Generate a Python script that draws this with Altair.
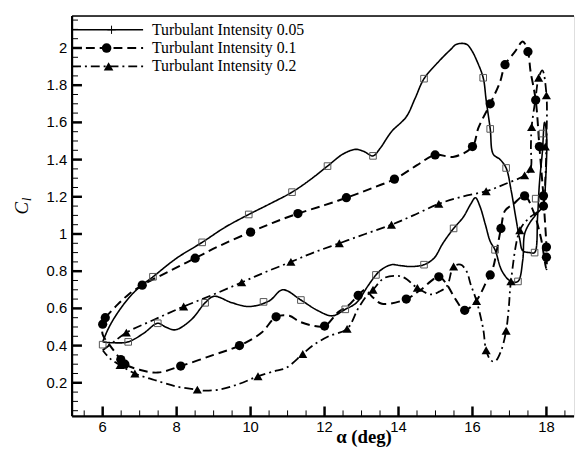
import altair as alt
import pandas as pd

# ---------------- data ----------------
series_names = ["Turbulant Intensity 0.05", "Turbulant Intensity 0.1", "Turbulant Intensity 0.2"]

s1_x = [6.00, 6.15, 6.35, 6.70, 7.00, 7.36, 8.00, 8.69, 9.30, 9.95, 10.50, 11.12, 11.60, 12.08, 12.50, 12.83,
        13.05, 13.31, 13.50, 13.81, 14.21, 14.45, 14.69, 15.10, 15.40, 15.57, 15.84, 16.00, 16.11, 16.29, 16.37,
        16.48, 16.56, 16.75, 16.91, 17.05, 17.17, 17.28, 17.36, 17.55, 17.68, 17.76, 17.81, 17.89, 17.95, 18.00,
        17.98, 17.90, 17.70, 17.55, 17.41, 17.36, 17.23, 17.04, 16.80, 16.61, 16.48, 16.35, 16.20, 16.08, 15.95,
        15.75, 15.49, 15.20, 14.96, 14.69, 14.35, 14.05, 13.81, 13.55, 13.39, 13.17, 12.86, 12.56, 12.21, 11.80,
        11.36, 10.87, 10.50, 9.97, 9.50, 9.01, 8.77, 8.40, 7.97, 7.70, 7.49, 7.10, 6.69, 6.30, 6.00]
s1_y = [0.42, 0.49, 0.56, 0.655, 0.715, 0.77, 0.87, 0.955, 1.035, 1.105, 1.16, 1.225, 1.29, 1.365, 1.43, 1.455,
        1.445, 1.42, 1.46, 1.55, 1.63, 1.73, 1.835, 1.93, 1.99, 2.02, 2.02, 1.98, 1.935, 1.84, 1.72,
        1.565, 1.43, 1.40, 1.355, 1.23, 1.09, 0.97, 0.91, 0.90, 0.90, 1.09, 1.27, 1.44, 1.60, 1.55,
        1.30, 1.15, 1.10, 1.06, 1.00, 0.86, 0.745, 0.745, 0.80, 0.915, 0.96, 1.05, 1.15, 1.195, 1.16,
        1.09, 1.03, 0.95, 0.87, 0.835, 0.825, 0.83, 0.835, 0.81, 0.78, 0.72, 0.63, 0.595, 0.56, 0.59,
        0.645, 0.70, 0.64, 0.61, 0.63, 0.665, 0.63, 0.54, 0.485, 0.50, 0.52, 0.465, 0.42, 0.415, 0.42]
s1_mx = [6.00, 7.36, 8.69, 9.95, 11.12, 12.08, 13.31, 14.69, 16.29, 16.48, 16.91, 17.71, 17.89,
         6.69, 7.49, 8.77, 10.35, 11.36, 12.56, 13.39, 14.69, 15.49, 16.61, 17.23, 17.68]
s1_my = [0.405, 0.77, 0.955, 1.105, 1.225, 1.365, 1.42, 1.835, 1.84, 1.565, 1.355, 1.19, 1.54,
         0.42, 0.52, 0.63, 0.635, 0.645, 0.595, 0.78, 0.835, 1.03, 0.915, 0.745, 0.90]

s2_x = [6.07, 6.40, 6.70, 7.07, 7.80, 8.50, 9.20, 10.00, 10.60, 11.28, 12.00, 12.59, 13.20, 13.89, 14.50, 14.99,
        15.50, 16.00, 16.16, 16.48, 16.75, 16.88, 17.15, 17.36, 17.50, 17.57, 17.71, 17.81, 17.88, 17.92, 17.95,
        18.00, 18.00, 17.85, 17.65, 17.41, 17.10, 16.88, 16.77, 16.56, 16.48, 16.37, 16.10, 15.79, 15.54, 15.30,
        15.09, 14.60, 14.21, 13.55, 13.30, 13.10, 12.91, 12.64, 12.37, 12.00, 11.68, 11.31, 11.05, 10.69, 10.30,
        9.70, 9.00, 8.11, 7.49, 7.00, 6.60, 6.49, 6.20, 6.00, 6.00, 6.07]
s2_y = [0.55, 0.62, 0.675, 0.725, 0.80, 0.87, 0.94, 1.01, 1.06, 1.11, 1.155, 1.195, 1.24, 1.295, 1.37, 1.425,
        1.415, 1.47, 1.57, 1.70, 1.82, 1.91, 1.98, 2.035, 1.98, 1.875, 1.72, 1.47, 1.30, 1.20, 1.10,
        0.93, 0.81, 0.98, 1.12, 1.205, 1.16, 1.125, 1.03, 0.82, 0.78, 0.74, 0.64, 0.59, 0.65, 0.73,
        0.77, 0.70, 0.65, 0.625, 0.66, 0.70, 0.67, 0.615, 0.58, 0.505, 0.507, 0.53, 0.56, 0.555, 0.47,
        0.40, 0.35, 0.29, 0.255, 0.27, 0.30, 0.325, 0.40, 0.46, 0.515, 0.55]
s2_mx = [6.00, 6.07, 7.07, 8.50, 10.00, 11.28, 12.59, 13.89, 14.99, 16.00, 16.48, 16.88, 17.50, 17.71, 17.81,
         17.92, 17.92, 18.00, 18.00, 17.41, 16.77, 16.48, 15.79, 15.09, 14.21, 12.91, 12.00, 10.69, 9.70,
         8.11, 6.60, 6.49]
s2_my = [0.515, 0.55, 0.725, 0.87, 1.01, 1.11, 1.195, 1.295, 1.425, 1.47, 1.70, 1.91, 1.98, 1.72, 1.47,
         1.205, 1.15, 0.93, 0.875, 1.205, 1.03, 0.78, 0.59, 0.77, 0.65, 0.67, 0.505, 0.555, 0.40,
         0.29, 0.30, 0.325]

s3_x = [6.00, 6.30, 6.64, 7.40, 8.19, 9.00, 9.76, 10.40, 11.09, 11.70, 12.40, 13.10, 13.81, 14.40, 15.09, 15.70,
        16.37, 16.90, 17.41, 17.57, 17.58, 17.60, 17.70, 17.79, 17.89, 18.00, 18.00, 17.97, 17.90, 17.50, 17.28,
        17.04, 16.98, 16.91, 16.77, 16.61, 16.50, 16.37, 16.29, 16.11, 15.95, 15.84, 15.68, 15.49, 15.31, 15.10,
        14.88, 14.51, 14.10, 13.63, 13.31, 13.15, 12.91, 12.61, 12.11, 11.68, 11.41, 10.96, 10.69, 10.20, 9.70,
        9.20, 8.75, 8.56, 8.00, 7.40, 6.87, 6.47, 6.20, 6.00]
s3_y = [0.375, 0.42, 0.47, 0.54, 0.61, 0.675, 0.74, 0.795, 0.85, 0.90, 0.95, 1.00, 1.05, 1.10, 1.162, 1.20,
        1.23, 1.27, 1.315, 1.35, 1.47, 1.575, 1.72, 1.84, 1.88, 1.75, 1.50, 1.30, 1.15, 1.08, 1.02,
        0.745, 0.60, 0.48, 0.37, 0.315, 0.32, 0.375, 0.49, 0.64, 0.73, 0.80, 0.835, 0.825, 0.72, 0.69,
        0.675, 0.71, 0.77, 0.765, 0.70, 0.67, 0.60, 0.49, 0.45, 0.40, 0.355, 0.28, 0.265, 0.235, 0.195,
        0.165, 0.158, 0.163, 0.18, 0.215, 0.25, 0.295, 0.33, 0.375]
s3_mx = [6.64, 8.19, 9.76, 11.09, 12.40, 13.81, 15.09, 16.37, 17.41, 17.57, 17.60, 17.79, 18.00, 17.97,
         17.28, 17.04, 16.91, 16.37, 16.11, 15.49, 14.51, 13.31, 12.61, 11.41, 10.20, 8.56, 6.87, 6.47]
s3_my = [0.47, 0.61, 0.74, 0.85, 0.95, 1.05, 1.162, 1.23, 1.315, 1.35, 1.575, 1.84, 1.745, 1.47,
         1.02, 0.745, 0.48, 0.375, 0.64, 0.825, 0.71, 0.70, 0.49, 0.355, 0.235, 0.163, 0.25, 0.295]

x_major = [6, 8, 10, 12, 14, 16, 18]
x_labels = ["6", "8", "10", "12", "14", "16", "18"]
y_major = [0.2, 0.4, 0.6, 0.8, 1.0, 1.2, 1.4, 1.6, 1.8, 2.0]
y_labels = ["0.2", "0.4", "0.6", "0.8", "1", "1.2", "1.4", "1.6", "1.8", "2"]

# ---------------- layout ----------------
W, H = 509, 406
XMIN, XMAX = 5.173, 18.746
YMIN, YMAX = 0.0196, 2.172

x_minor = [v / 2 for v in range(11, 38) if (v / 2) not in x_major]
y_minor = [round(v * 0.05, 2) for v in range(1, 44) if round(v * 0.05, 2) not in y_major]

xs = alt.Scale(domain=[XMIN, XMAX], nice=False, zero=False)
ys = alt.Scale(domain=[YMIN, YMAX], nice=False, zero=False)

SANS = "Liberation Sans"
SERIF = "Liberation Serif"


def X(field):
    return alt.X(field, scale=xs, axis=None)


def Y(field):
    return alt.Y(field, scale=ys, axis=None)


def path_df(xv, yv):
    return pd.DataFrame({"x": xv, "y": yv, "i": list(range(len(xv)))})


styles = [
    dict(dash=[1, 0], width=1.6),
    dict(dash=[9, 5], width=2.0),
    dict(dash=[9, 4, 2, 4], width=1.8),
]

layers = []
paths = [(s1_x, s1_y), (s2_x, s2_y), (s3_x, s3_y)]
for k, (px, py) in enumerate(paths):
    st = styles[k]
    layers.append(
        alt.Chart(path_df(px, py)).mark_line(
            interpolate="catmull-rom", color="black", strokeWidth=st["width"], strokeDash=st["dash"]
        ).encode(x=X("x:Q"), y=Y("y:Q"), order=alt.Order("i:Q"))
    )

# markers
layers.append(
    alt.Chart(pd.DataFrame({"x": s1_mx, "y": s1_my})).mark_point(
        shape="square", size=45, filled=False, color="#555555", strokeWidth=1, opacity=1
    ).encode(x=X("x:Q"), y=Y("y:Q"))
)
layers.append(
    alt.Chart(pd.DataFrame({"x": s2_mx, "y": s2_my})).mark_point(
        shape="circle", size=88, filled=True, color="black", opacity=1
    ).encode(x=X("x:Q"), y=Y("y:Q"))
)
layers.append(
    alt.Chart(pd.DataFrame({"x": s3_mx, "y": s3_my})).mark_point(
        shape="triangle-up", size=85, filled=True, color="black", opacity=1
    ).encode(x=X("x:Q"), y=Y("y:Q"))
)

# axis domain lines and frame
layers.append(
    alt.Chart(pd.DataFrame({"a": [0]})).mark_rule(color="black", strokeWidth=2.2).encode(
        x=alt.value(0), x2=alt.value(W), y=alt.value(H))
)
layers.append(
    alt.Chart(pd.DataFrame({"a": [0]})).mark_rule(color="black", strokeWidth=2.2).encode(
        x=alt.value(0), y=alt.value(0), y2=alt.value(H))
)
layers.append(
    alt.Chart(pd.DataFrame({"a": [0]})).mark_rule(color="black", strokeWidth=1.6).encode(
        x=alt.value(0), x2=alt.value(W), y=alt.value(0))
)

# inward ticks
layers.append(
    alt.Chart(pd.DataFrame({"v": x_major})).mark_rule(color="black", strokeWidth=2.5).encode(
        x=X("v:Q"), y=alt.value(H), y2=alt.value(H - 10))
)
layers.append(
    alt.Chart(pd.DataFrame({"v": x_minor})).mark_rule(color="black", strokeWidth=1).encode(
        x=X("v:Q"), y=alt.value(H), y2=alt.value(H - 6))
)
layers.append(
    alt.Chart(pd.DataFrame({"v": y_major})).mark_rule(color="black", strokeWidth=2.5).encode(
        y=Y("v:Q"), x=alt.value(0), x2=alt.value(10))
)
layers.append(
    alt.Chart(pd.DataFrame({"v": y_minor})).mark_rule(color="black", strokeWidth=1).encode(
        y=Y("v:Q"), x=alt.value(0), x2=alt.value(6))
)

# tick labels
layers.append(
    alt.Chart(pd.DataFrame({"v": x_major, "t": x_labels})).mark_text(
        font=SANS, fontSize=15, color="black", align="center", baseline="top").encode(
        x=X("v:Q"), y=alt.value(H + 4), text="t:N")
)
layers.append(
    alt.Chart(pd.DataFrame({"v": y_major, "t": y_labels})).mark_text(
        font=SANS, fontSize=15, color="black", align="right", baseline="middle").encode(
        y=Y("v:Q"), x=alt.value(-5), text="t:N")
)

# x-axis title (kept just clear of the "12" tick label)
layers.append(
    alt.Chart(pd.DataFrame({"t": ["α (deg)"]})).mark_text(
        font=SERIF, fontSize=19, fontWeight="bold", color="black", align="center",
        baseline="alphabetic").encode(text="t:N", x=alt.value(296), y=alt.value(H + 27))
)

# legend
row_y = [14, 32.5, 51]
marker_x = [40, 35, 37]
for k, name in enumerate(series_names):
    st = styles[k]
    ldf = pd.DataFrame({"label": [name]})
    layers.append(
        alt.Chart(ldf).mark_rule(color="black", strokeWidth=st["width"], strokeDash=st["dash"]).encode(
            x=alt.value(0), x2=alt.value(72), y=alt.value(row_y[k]))
    )
    if k == 0:
        mk = alt.Chart(ldf).mark_point(shape="M-1,0L1,0M0,-1L0,1", size=70, filled=False,
                                       color="black", strokeWidth=1, opacity=1)
    elif k == 1:
        mk = alt.Chart(ldf).mark_point(shape="circle", size=95, filled=True, color="black", opacity=1)
    else:
        mk = alt.Chart(ldf).mark_point(shape="triangle-up", size=95, filled=True, color="black", opacity=1)
    layers.append(mk.encode(x=alt.value(marker_x[k]), y=alt.value(row_y[k])))
    layers.append(
        alt.Chart(ldf).mark_text(font=SERIF, fontSize=16, color="black", align="left",
                                 baseline="alphabetic").encode(
            text="label:N", x=alt.value(81), y=alt.value(row_y[k] + 5))
    )

# y-axis title C_l
layers.append(
    alt.Chart(pd.DataFrame({"t": ["C"]})).mark_text(font=SERIF, fontSize=19, fontStyle="italic",
                                                   color="black", angle=270, align="center",
                                                   baseline="middle").encode(
        text="t:N", x=alt.value(-51), y=alt.value(195))
)
layers.append(
    alt.Chart(pd.DataFrame({"t": ["l"]})).mark_text(font=SERIF, fontSize=12, fontStyle="italic",
                                                   color="black", angle=270, align="center",
                                                   baseline="middle").encode(
        text="t:N", x=alt.value(-46), y=alt.value(186))
)

chart = alt.layer(*layers).properties(
    width=W, height=H,
    autosize=alt.AutoSizeParams(type="none"),
    padding={"left": 65, "top": 5, "right": 1, "bottom": 30},
).configure_view(stroke=None).configure(background="white")

chart.save("out.html", embed_options={"renderer": "svg", "actions": False})
